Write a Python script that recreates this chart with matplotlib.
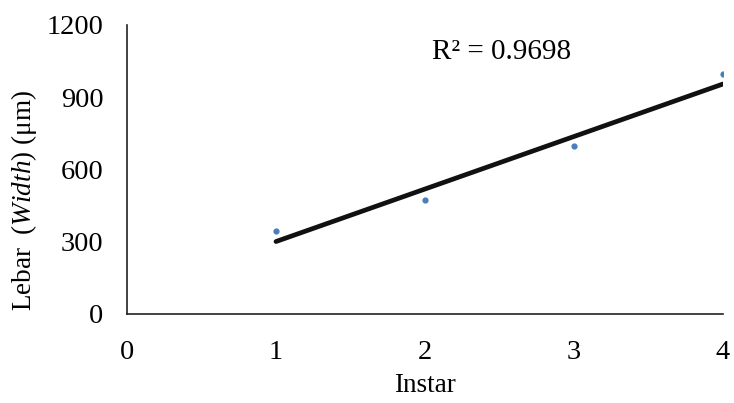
import matplotlib.pyplot as plt
import numpy as np

plt.rcParams['font.family'] = 'Liberation Serif'
plt.rcParams['mathtext.fontset'] = 'custom'
plt.rcParams['mathtext.rm'] = 'Liberation Serif'
plt.rcParams['mathtext.it'] = 'Liberation Serif:italic'
plt.rcParams['font.size'] = 20.5

# data
instar = [1, 2, 3, 4]
lebar = [342, 473, 698, 995]
r2_text = 'R² = 0.9698'
xticks = [0, 1, 2, 3, 4]
yticks = [0, 300, 600, 900, 1200]

fig = plt.figure(figsize=(7.34, 4.03), dpi=100)
ax = fig.add_axes([0.173, 0.222, 0.812, 0.716])

# trend line (linear fit)
k, b = np.polyfit(instar, lebar, 1)
xs = np.array([instar[0], instar[-1]])
ax.plot(xs, k * xs + b, color='#111111', lw=3.4, solid_capstyle='round', zorder=2)
ax.scatter(instar, lebar, s=12, color='#4a7ebb', zorder=3)

ax.set_xlim(0, 4)
ax.set_ylim(0, 1200)
ax.set_xticks(xticks)
ax.set_yticks(yticks)
ax.tick_params(axis='x', length=0, pad=19)
ax.tick_params(axis='y', length=0, pad=17)
for s in ['top', 'right']:
    ax.spines[s].set_visible(False)
for s in ['left', 'bottom']:
    ax.spines[s].set_linewidth(1.2)
    ax.spines[s].set_color('#222222')

ax.set_xlabel('Instar', labelpad=6, fontsize=19.5)
ax.set_ylabel(r'Lebar  ($\mathit{Width}$) (μm)', fontsize=19.5)
ax.yaxis.set_label_coords(-0.148, 0.39)
ax.text(2.05, 1060, r2_text, fontsize=21)

plt.savefig('out.png')
